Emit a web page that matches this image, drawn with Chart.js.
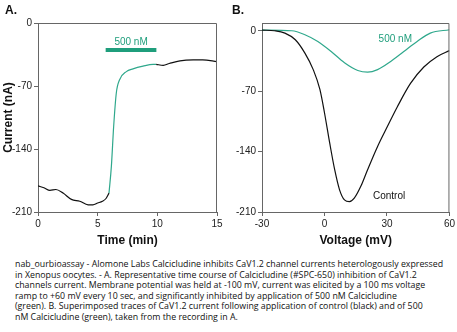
<!DOCTYPE html>
<html>
<head>
<meta charset="utf-8">
<script src="https://cdn.jsdelivr.net/npm/chart.js@4.4.1/dist/chart.umd.min.js"></script>
<style>
  body { margin: 0; background: #fff; width: 457px; height: 332px; position: relative; overflow: hidden; font-family: 'Liberation Sans', Arial, sans-serif; }
  .wrap { position: absolute; top: 0; height: 252px; }
  #wrapA { left: 0; width: 228px; }
  #wrapB { left: 228px; width: 229px; }
  .panel { position: absolute; top: 3px; font-weight: bold; font-size: 12px; color: #111; }
  #caption { position: absolute; left: 15px; top: 259px; font-family: 'Open Sans', sans-serif; font-size: 8.8px; line-height: 10.5px; color: #111; white-space: nowrap; }
</style>
</head>
<body>
<div class="wrap" id="wrapA"><canvas id="chartA"></canvas></div>
<div class="wrap" id="wrapB"><canvas id="chartB"></canvas></div>
<div class="panel" style="left:5px">A.</div>
<div class="panel" style="left:232px">B.</div>
<div id="caption">
nab_ourbioassay - Alomone Labs Calcicludine inhibits CaV1.2 channel currents heterologously expressed<br>
in Xenopus oocytes. - A. Representative time course of Calcicludine (#SPC-650) inhibition of CaV1.2<br>
channels current. Membrane potential was held at -100 mV, current was elicited by a 100 ms voltage<br>
ramp to +60 mV every 10 sec, and significantly inhibited by application of 500 nM Calcicludine<br>
(green). B. Superimposed traces of CaV1.2 current following application of control (black) and of 500<br>
nM Calcicludine (green), taken from the recording in A.
</div>
<script>
// panel A: time course (min, nA)
const timeBefore = [0, 0.5, 1.0, 1.5, 2.1, 2.8, 3.5, 4.2, 4.6, 5.0, 5.4, 5.7, 5.95];
const currentBefore = [-181, -183, -186, -185, -189, -196, -198, -202, -202, -200, -198, -195, -189];
const timeDrug = [5.95, 6.15, 6.34, 6.56, 6.84, 7.4, 7.96, 8.8, 9.64, 9.9];
const currentDrug = [-189, -159, -115, -78, -63, -54, -51, -48, -46, -46];
const timeAfter = [9.9, 10.5, 11.0, 11.9, 13.0, 13.8, 15];
const currentAfter = [-46, -47, -45, -42, -41, -41, -43];
const drugBarTime = [5.67, 9.92];
const drugBarLevel = -30;

// panel B: I-V traces (mV, nA)
const voltageCtrl = [-30, -24, -19, -14, -9.4, -5.4, -2.2, 0, 2.5, 4.9, 7.2, 9.6, 12, 14.3, 17.5, 20.7, 25.5, 30.2, 35, 41.3, 47.7, 54, 60];
const currentCtrl = [0.8, 0, -2.7, -10.4, -25.9, -45, -68, -95, -130, -161, -184, -196, -198, -194, -180, -161, -134, -111, -88, -61, -42, -30, -23];
const voltageDrug = [-30, -15.7, -9.4, -3.2, 3.2, 9.6, 16, 20.7, 25.5, 31.8, 38.1, 44.5, 50.8, 60];
const currentDrugIV = [0.8, 0, -4.6, -12.4, -24, -37, -46, -48, -45, -35.5, -24, -12.4, -2.7, 1.2];

const yTicks = [-210, -140, -70, 0];
const xTicksA = [0, 5, 10, 15];
const xTicksB = [-30, 0, 30, 60];

const green = '#1f9e7c';
const greenLine = '#2fa88c';
const axisColor = '#666';

function pts(xs, ys) {
    return xs.map((x, i) => ({ x: x, y: ys[i] }));
}

const extras = {
    id: 'extras',
    afterDatasetsDraw(chart, args, opts) {
        const { ctx, chartArea: a, scales } = chart;
        ctx.save();
        ctx.strokeStyle = axisColor;
        ctx.lineWidth = 1;
        ctx.beginPath();
        ctx.moveTo(a.left, a.top + 0.5);
        ctx.lineTo(a.right - 0.5, a.top + 0.5);
        ctx.lineTo(a.right - 0.5, a.bottom);
        ctx.stroke();
        ctx.textAlign = 'center';
        ctx.textBaseline = 'middle';
        (opts.notes || []).forEach(n => {
            ctx.fillStyle = n.color;
            ctx.font = '10px "Liberation Sans"';
            ctx.fillText(n.text, scales.x.getPixelForValue(n.x), scales.y.getPixelForValue(n.y));
        });
        ctx.restore();
    }
};

function lineSet(data, color, width) {
    return {
        data: data,
        borderColor: color,
        borderWidth: width || 1.2,
        pointRadius: 0,
        fill: false,
        cubicInterpolationMode: 'monotone'
    };
}

function axes(xMin, xMax, xTicks, yMax, yWidth, xTitle, yTitle) {
    const tickFont = { family: 'Liberation Sans', size: 10 };
    return {
        x: {
            type: 'linear', min: xMin, max: xMax,
            afterBuildTicks: s => { s.ticks = xTicks.map(v => ({ value: v })); },
            afterFit: s => { s.height = 40; },
            border: { color: axisColor },
            grid: { drawOnChartArea: false, color: axisColor, tickLength: 4 },
            ticks: { color: '#222', font: tickFont, padding: 2, maxRotation: 0 },
            title: { display: true, text: xTitle, color: '#111', font: { family: 'Liberation Sans', size: 12, weight: 'bold' }, padding: { top: 2 } }
        },
        y: {
            type: 'linear', min: -210, max: yMax,
            afterBuildTicks: s => { s.ticks = yTicks.map(v => ({ value: v })); },
            afterFit: s => { s.width = yWidth; },
            border: { color: axisColor },
            grid: { drawOnChartArea: false, color: axisColor, tickLength: 4 },
            ticks: { color: '#222', font: tickFont, padding: 2 },
            title: { display: !!yTitle, text: yTitle, color: '#111', font: { family: 'Liberation Sans', size: 12, weight: 'bold' }, padding: { top: 1, bottom: 0 } }
        }
    };
}

new Chart(document.getElementById('chartA'), {
    type: 'line',
    data: {
        datasets: [
            lineSet(pts(timeBefore, currentBefore), '#111'),
            lineSet(pts(timeDrug, currentDrug), greenLine),
            lineSet(pts(timeAfter, currentAfter), '#111'),
            lineSet(drugBarTime.map(t => ({ x: t, y: drugBarLevel })), green, 4)
        ]
    },
    options: {
        responsive: true,
        maintainAspectRatio: false,
        animation: false,
        layout: { padding: { top: 23, right: 11, left: 0, bottom: 0 } },
        plugins: {
            legend: { display: false },
            tooltip: { enabled: false },
            extras: { notes: [{ text: '500 nM', x: 7.8, y: -21, color: green }] }
        },
        scales: axes(0, 15, xTicksA, 0, 38, 'Time (min)', 'Current (nA)')
    },
    plugins: [extras]
});

new Chart(document.getElementById('chartB'), {
    type: 'line',
    data: {
        datasets: [
            lineSet(pts(voltageCtrl, currentCtrl), '#111'),
            lineSet(pts(voltageDrug, currentDrugIV), greenLine)
        ]
    },
    options: {
        responsive: true,
        maintainAspectRatio: false,
        animation: false,
        layout: { padding: { top: 23, right: 5, left: 0, bottom: 0 } },
        plugins: {
            legend: { display: false },
            tooltip: { enabled: false },
            extras: {
                notes: [
                    { text: '500 nM', x: 34, y: -10, color: green },
                    { text: 'Control', x: 31, y: -192, color: '#111' }
                ]
            }
        },
        scales: axes(-30, 60, xTicksB, 9, 34, 'Voltage (mV)', '')
    },
    plugins: [extras]
});
</script>
</body>
</html>
